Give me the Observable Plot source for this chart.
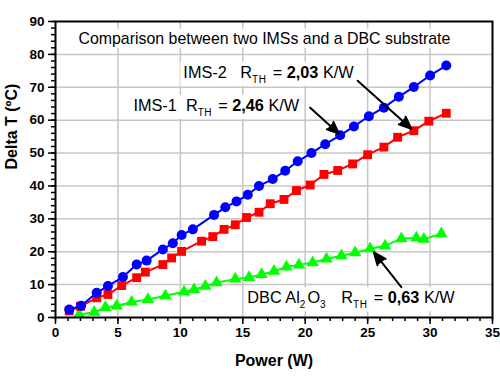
<!DOCTYPE html>
<html>
<head>
<meta charset="utf-8">
<script src="https://cdn.jsdelivr.net/npm/d3@7"></script>
<script src="https://cdn.jsdelivr.net/npm/@observablehq/plot@0.6"></script>
<style>
  html, body { margin: 0; padding: 0; background: #fff; }
  #chart { width: 500px; height: 380px; }
</style>
</head>
<body>
<div id="chart"></div>
<script>
// ---- data ----
const ims2Power = [1.1, 2.05, 3.3, 4.2, 5.4, 6.5, 7.3, 8.6, 9.4, 10.1, 11.0, 12.7, 13.6, 14.5, 15.4, 16.3, 17.4, 18.4, 19.4, 20.5, 21.6, 22.8, 23.9, 25.1, 26.3, 27.5, 28.7, 30.0, 31.3];
const ims2Delta = [2.4, 3.6, 7.5, 9.6, 12.3, 16.1, 17.3, 20.7, 22.6, 25.1, 26.8, 31.2, 33.5, 35.3, 37.3, 40.0, 42.1, 44.6, 47.5, 50.0, 52.7, 55.4, 58.1, 61.2, 63.8, 67.1, 70.1, 73.6, 76.6];

const ims1Power = [1.1, 2.0, 3.3, 4.2, 5.3, 6.5, 7.2, 8.6, 9.3, 10.1, 11.7, 12.6, 13.5, 14.4, 15.3, 16.3, 17.2, 18.3, 19.3, 20.4, 21.5, 22.6, 23.8, 25.0, 26.3, 27.4, 28.7, 29.9, 31.3];
const ims1Delta = [2.0, 3.4, 6.0, 7.0, 9.7, 12.1, 13.8, 16.1, 18.1, 20.1, 23.2, 24.6, 26.8, 28.2, 30.4, 32.0, 34.6, 35.9, 38.6, 40.3, 43.5, 44.7, 46.7, 49.5, 51.8, 54.8, 56.8, 59.7, 62.1];

const dbcPower = [1.9, 3.1, 4.0, 4.9, 6.1, 7.4, 8.8, 10.3, 11.1, 12.0, 12.9, 14.4, 15.5, 16.5, 17.5, 18.5, 19.5, 20.6, 21.7, 22.9, 24.0, 25.2, 26.4, 27.7, 28.9, 29.5, 30.9];
const dbcDelta = [0.9, 1.6, 3.1, 3.5, 4.7, 5.5, 6.6, 7.8, 8.5, 9.5, 10.6, 11.7, 12.2, 13.1, 14.1, 15.4, 16.0, 16.7, 17.8, 18.8, 19.7, 20.9, 21.8, 24.0, 24.2, 23.8, 25.5];

// ticks
const xMajor = [0, 5, 10, 15, 20, 25, 30, 35];
const yMajor = [0, 10, 20, 30, 40, 50, 60, 70, 80, 90];
const xMinor = d3.range(0, 36, 1);
const yMinor = d3.range(0, 91, 2);
const xGrid = [5, 10, 15, 20, 25, 30];
const yGrid = [10, 20, 30, 40, 50, 60, 70, 80];

// annotations (data coordinates)
const annX = [1.84, 10.24, 6.24, 15.36];
const annY = [84.8, 74.5, 64.4, 5.9];
const annSize = [15.9, 16.3, 16.3, 16.3];
const annParts = [
  [["Comparison between two IMSs and a DBC substrate", ""]],
  [["IMS-2   R", ""], ["TH", "sub"], [" = ", ""], ["2,03", "b"], [" K/W", ""]],
  [["IMS-1  R", ""], ["TH", "sub"], [" = ", ""], ["2,46", "b"], [" K/W", ""]],
  [["DBC Al", ""], ["2", "sub"], ["O", ""], ["3", "sub"], ["   R", ""], ["TH", "sub"], [" = ", ""], ["0,63", "b"], [" K/W", ""]]
];
const arrowX1 = [20.4, 24.2, 27.7];
const arrowY1 = [63.8, 72.0, 9.2];
const arrowX2 = [22.7, 28.5, 25.5];
const arrowY2 = [55.9, 57.4, 19.8];

// ---- build tables ----
const ims2 = ims2Power.map((p, i) => ({p, d: ims2Delta[i]}));
const ims1 = ims1Power.map((p, i) => ({p, d: ims1Delta[i]}));
const dbc = dbcPower.map((p, i) => ({p, d: dbcDelta[i]}));
const ann = annX.map((x, i) => ({x, y: annY[i], s: annSize[i], t: annParts[i].map(s => s[0]).join("")}));
const arrows = arrowX1.map((x1, i) => ({x1, y1: arrowY1[i], x2: arrowX2[i], y2: arrowY2[i]}));

const FONT = "'Liberation Sans', Arial, Helvetica, sans-serif";

const plot = Plot.plot({
  width: 500,
  height: 380,
  marginLeft: 55,
  marginRight: 8,
  marginTop: 21,
  marginBottom: 63,
  style: {fontFamily: FONT, color: "black", background: "white", overflow: "visible"},
  x: {domain: [0, 35], axis: null},
  y: {domain: [0, 90], axis: null},
  marks: [
    Plot.gridX(xGrid, {stroke: "#c6c6c6", strokeOpacity: 1, strokeWidth: 1.5}),
    Plot.gridY(yGrid, {stroke: "#c6c6c6", strokeOpacity: 1, strokeWidth: 1.5}),
    Plot.axisX(xMinor, {tickSize: 4, tickFormat: () => "", strokeWidth: 1.5, label: null}),
    Plot.axisY(yMinor, {tickSize: 4, tickFormat: () => "", strokeWidth: 1.5, label: null}),
    Plot.axisX(xMajor, {tickSize: 7, tickPadding: 3, fontSize: 13.5, fontWeight: "bold", strokeWidth: 1.5, label: null}),
    Plot.axisY(yMajor, {tickSize: 7, tickPadding: 4, fontSize: 13.5, fontWeight: "bold", strokeWidth: 1.5, label: null}),
    Plot.line(dbc, {x: "p", y: "d", stroke: "#00ff00", strokeWidth: 2}),
    Plot.dot(dbc, {x: "p", y: "d", symbol: "triangle", r: 4.6, fill: "#00ff00", stroke: "none"}),
    Plot.line(ims1, {x: "p", y: "d", stroke: "#ff0000", strokeWidth: 2}),
    Plot.dot(ims1, {x: "p", y: "d", symbol: "square", r: 5, fill: "#ff0000", stroke: "none"}),
    Plot.line(ims2, {x: "p", y: "d", stroke: "#0000ff", strokeWidth: 2}),
    Plot.dot(ims2, {x: "p", y: "d", symbol: "circle", r: 5, fill: "#0000ff", stroke: "none"}),
    Plot.arrow(arrows, {x1: "x1", y1: "y1", x2: "x2", y2: "y2", stroke: "black", fill: "black", strokeWidth: 2, headLength: 10, headAngle: 45}),
    Plot.text(ann, {x: "x", y: "y", text: "t", textAnchor: "start", fontSize: "s", fill: "black"}),
    Plot.text(["Power (W)"], {frameAnchor: "bottom", dy: 48, fontSize: 16, fontWeight: "bold", fill: "black"}),
    Plot.text(["Delta T (ºC)"], {frameAnchor: "left", dx: -44, rotate: -90, fontSize: 16, fontWeight: "bold", fill: "black"}),
    Plot.frame({stroke: "black", strokeWidth: 2})
  ]
});
document.getElementById("chart").appendChild(plot);

// rich text (subscripts, bold) + white label boxes
let annNode = null;
plot.querySelectorAll('g[aria-label="text"]').forEach(g => {
  const first = g.querySelector("text");
  if (!annNode && first && first.textContent === ann[0].t) annNode = g;
});
if (annNode) {
  const annGroup = d3.select(annNode);
  annGroup.selectAll("text").each(function(d, i) {
    const t = d3.select(this);
    t.text(null);
    let prevSub = false;
    for (const [s, kind] of annParts[i]) {
      const ts = t.append("tspan").text(s).style("white-space", "pre");
      if (kind === "b") ts.attr("font-weight", "bold");
      if (kind === "sub") {
        ts.attr("font-size", "10px").attr("letter-spacing", "0.6px");
        if (!prevSub) ts.attr("dy", "5px");
        prevSub = true;
      } else {
        if (prevSub) ts.attr("dy", "-5px").attr("dx", "1.5px");
        prevSub = false;
      }
    }
  });
  const boxes = d3.create("svg:g").attr("aria-label", "annot-boxes");
  const gt = annNode.getAttribute("transform");
  if (gt) boxes.attr("transform", gt);
  annGroup.selectAll("text").each(function() {
    const b = this.getBBox();
    const r = boxes.append("rect")
      .attr("x", b.x - 3).attr("y", b.y - 1)
      .attr("width", b.width + 6).attr("height", b.height + 2)
      .attr("fill", "white");
    const tr = this.getAttribute("transform");
    if (tr) r.attr("transform", tr);
  });
  const firstLine = plot.querySelector('g[aria-label="line"]');
  plot.insertBefore(boxes.node(), firstLine);
}
</script>
</body>
</html>
